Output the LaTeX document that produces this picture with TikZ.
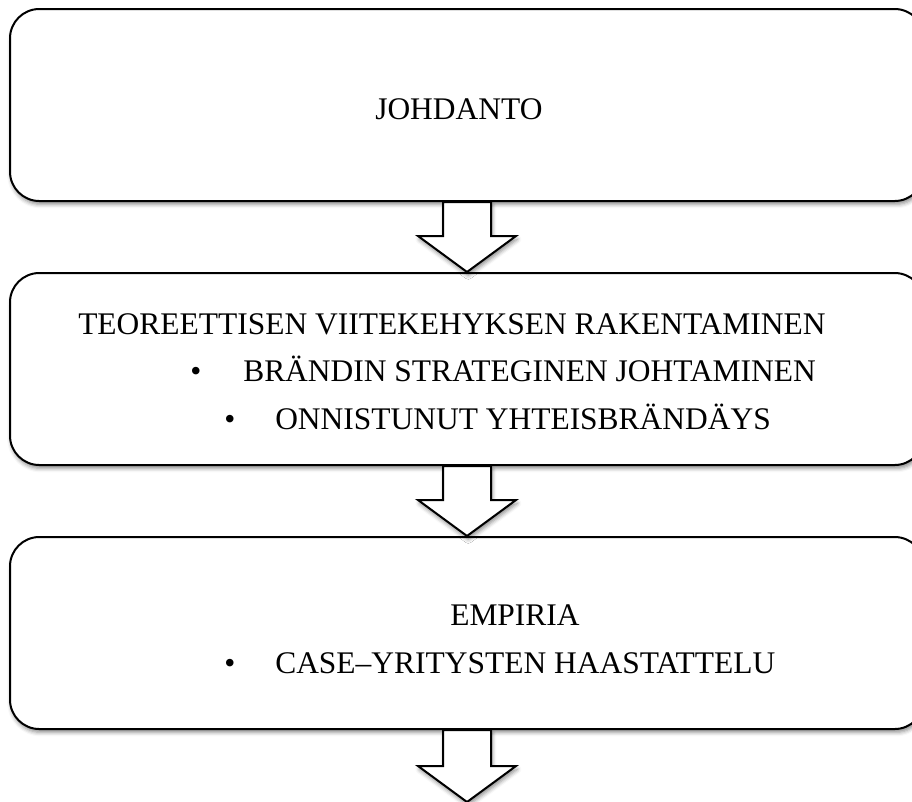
\documentclass[tikz,border=0pt]{standalone}
\usepackage{fontspec}
\setmainfont{Liberation Serif}
\usetikzlibrary{calc,shadows.blur}

\tikzset{
  stage/.style={draw=black, line width=1.5pt, fill=white, rounded corners=22pt,
    minimum width=914*0.75pt, minimum height=192*0.75pt, inner sep=0pt,
    blur shadow={shadow xshift=1pt, shadow yshift=-2.5pt, shadow blur radius=3pt, shadow opacity=45}},
  flowarrow/.style={draw=black, line width=1.5pt, fill=white, line join=miter,
    blur shadow={shadow xshift=1pt, shadow yshift=-2.5pt, shadow blur radius=3pt, shadow opacity=45}},
  label/.style={anchor=base west, inner sep=0pt, font=\fontsize{23.6}{28}\selectfont},
}

% block arrow from the bottom of one stage down to a tip point
\newcommand\blockarrow[2]{%
  \draw[flowarrow] ($(#1.south)+(-24,0)$) -- ($(#2)+(-24,-36)$) -- ($(#2)+(-49,-36)$)
    -- (#2) -- ($(#2)+(49,-36)$) -- ($(#2)+(24,-36)$) -- ($(#1.south)+(24,0)$) -- cycle;}

\begin{document}
\begin{tikzpicture}[x=0.75pt, y=-0.75pt]
  \useasboundingbox (0,0) rectangle (912,801);
  \clip (0,0) rectangle (912,801);

  % stages
  \node[stage] (intro)  at (467,105) {};
  \node[stage] (theory) at (467,369) {};
  \blockarrow{intro}{theory.north}
  \node[stage] (empir)  at (467,633) {};
  \blockarrow{theory}{empir.north}
  \coordinate (next) at (467,802);
  \blockarrow{empir}{next}

  % texts
  \node[label] (t1) at (375,119) {JOHDANTO};
  \node[label] (t2) at (78,334) {TEOREETTISEN VIITEKEHYKSEN RAKENTAMINEN};
  \node[label] (b1) at (190,381) {•};
  \node[label] (t3) at (243,381) {BRÄNDIN STRATEGINEN JOHTAMINEN};
  \node[label] (b2) at (224,429) {•};
  \node[label] (t4) at (275,429) {ONNISTUNUT YHTEISBRÄNDÄYS};
  \node[label] (t5) at (450,625) {EMPIRIA};
  \node[label] (b3) at (224,673) {•};
  \node[label] (t6) at (275,673) {CASE–YRITYSTEN HAASTATTELU};
\end{tikzpicture}
\end{document}
